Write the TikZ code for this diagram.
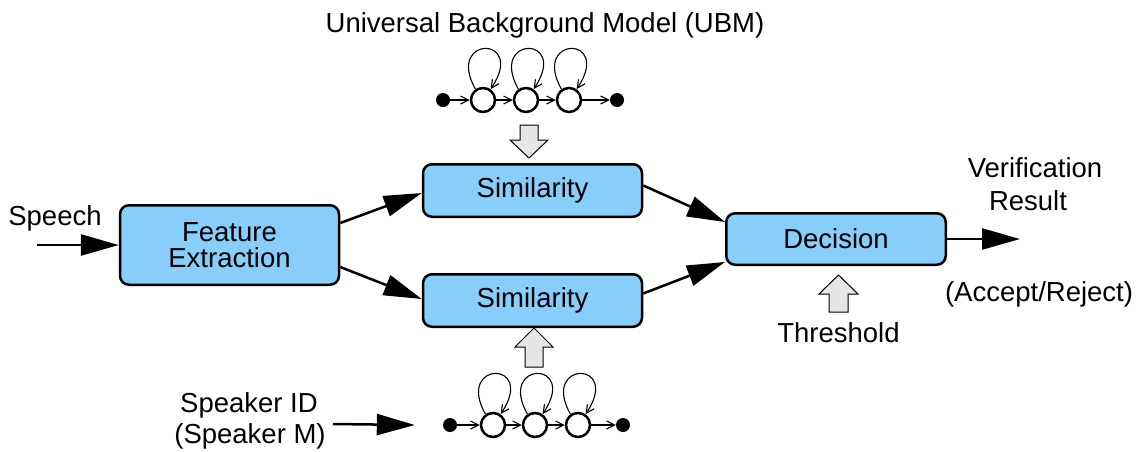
\documentclass[tikz,border=0pt]{standalone}
\usepackage{fontspec}
\setmainfont{Liberation Sans}
\usetikzlibrary{arrows.meta,calc}
\definecolor{boxblue}{RGB}{135,206,250}
\definecolor{blockgray}{RGB}{230,230,230}
\begin{document}
\begin{tikzpicture}[x=1pt,y=-1pt,
  font=\fontsize{27.5}{26.5}\selectfont,
  box/.style={draw, line width=2.5pt, rounded corners=9pt, fill=boxblue,
    minimum width=219pt, align=center, inner sep=0pt},
  flow/.style={line width=2.5pt, -{Triangle[length=38pt,width=21pt]}},
  state/.style={circle, draw, line width=2.5pt, fill=white, minimum size=24pt, inner sep=0pt},
  term/.style={circle, fill=black, minimum size=14pt, inner sep=0pt},
  trans/.style={line width=1.1pt, -{Straight Barb[length=8pt,width=8pt]}},
  block/.style={draw, line width=1pt, fill=blockgray, line join=miter},
  lbl/.style={inner sep=0pt, anchor=base}]
\useasboundingbox (0,0) rectangle (1139,451);

% main boxes
\node[box, minimum height=79.5pt] (fe) at (229.5,245) {Feature\\Extraction};
\node[box, minimum height=52.5pt] (s1) at (532.5,190.5) {Similarity};
\node[box, minimum height=52.5pt] (s2) at (532.5,300.5) {Similarity};
\node[box, minimum height=51.5pt, minimum width=219.5pt] (dec) at (836,239) {Decision};

% labels
\node[lbl] (title) at (545,32) {Universal Background Model (UBM)};
\node[lbl] (speech) at (55,225) {Speech};
\node[lbl] (verif) at (1035,177) {Verification};
\node[lbl] (result) at (1028,210) {Result};
\node[lbl] (accept) at (1039,301) {(Accept/Reject)};
\node[lbl] (thr) at (838.5,342) {Threshold};
\node[lbl] (spk) at (249,412) {Speaker ID};
\node[lbl] (spkm) at (250,443) {(Speaker M)};

% flow arrows
\coordinate (speechin) at (37,245);
\coordinate (out) at (1020,239);
\coordinate (spkin) at (333,424);
\draw[flow] (speechin) -- (fe.west);
\draw[flow] ($(fe.east)+(0,-22)$) -- ($(s1.west)+(0,2.5)$);
\draw[flow] ($(fe.east)+(0,22)$) -- ($(s2.west)+(0,-1.5)$);
\draw[flow] ($(s1.east)+(0,-5)$) -- ($(dec.west)+(0,-17)$);
\draw[flow] ($(s2.east)+(0,-7)$) -- ($(dec.west)+(0,23)$);
\draw[flow] (dec.east) -- (out);

% UBM HMM
\node[term] (ua) at (443,100) {};
\node[state] (u1) at (483,100) {};
\node[state] (u2) at (526,100) {};
\node[state] (u3) at (569,100) {};
\node[term] (uz) at (617,100) {};
\draw[trans] (ua) -- (u1);
\draw[trans] (u1) -- (u2);
\draw[trans] (u2) -- (u3);
\draw[trans] (u3) -- (uz);
\foreach \s in {u1,u2,u3}
  \draw[trans] (\s.125) .. controls ($(\s)+(-38,-65)$) and ($(\s)+(44,-65)$) .. (\s.55);

% speaker HMM
\node[term] (ba) at (450,425) {};
\node[state] (b1) at (493,425) {};
\node[state] (b2) at (535,425) {};
\node[state] (b3) at (578,425) {};
\node[term] (bz) at (623,425) {};
\draw[trans] (ba) -- (b1);
\draw[trans] (b1) -- (b2);
\draw[trans] (b2) -- (b3);
\draw[trans] (b3) -- (bz);
\foreach \s in {b1,b2,b3}
  \draw[trans] (\s.125) .. controls ($(\s)+(-38,-65)$) and ($(\s)+(44,-65)$) .. (\s.55);

\draw[flow] (spkin) -- ($(ba.west)+(-28,0)$);

% block arrows
\draw[block] (520,125) -- (538,125) -- (538,140) -- (548,140) -- (529,158) -- (510,140) -- (520,140) -- cycle;
\draw[block] (525,367) -- (543,367) -- (543,347) -- (553,347) -- (534,328) -- (515,347) -- (525,347) -- cycle;
\draw[block] (829,312) -- (848,312) -- (848,294) -- (858,294) -- (838.5,275) -- (819,294) -- (829,294) -- cycle;
\end{tikzpicture}
\end{document}
